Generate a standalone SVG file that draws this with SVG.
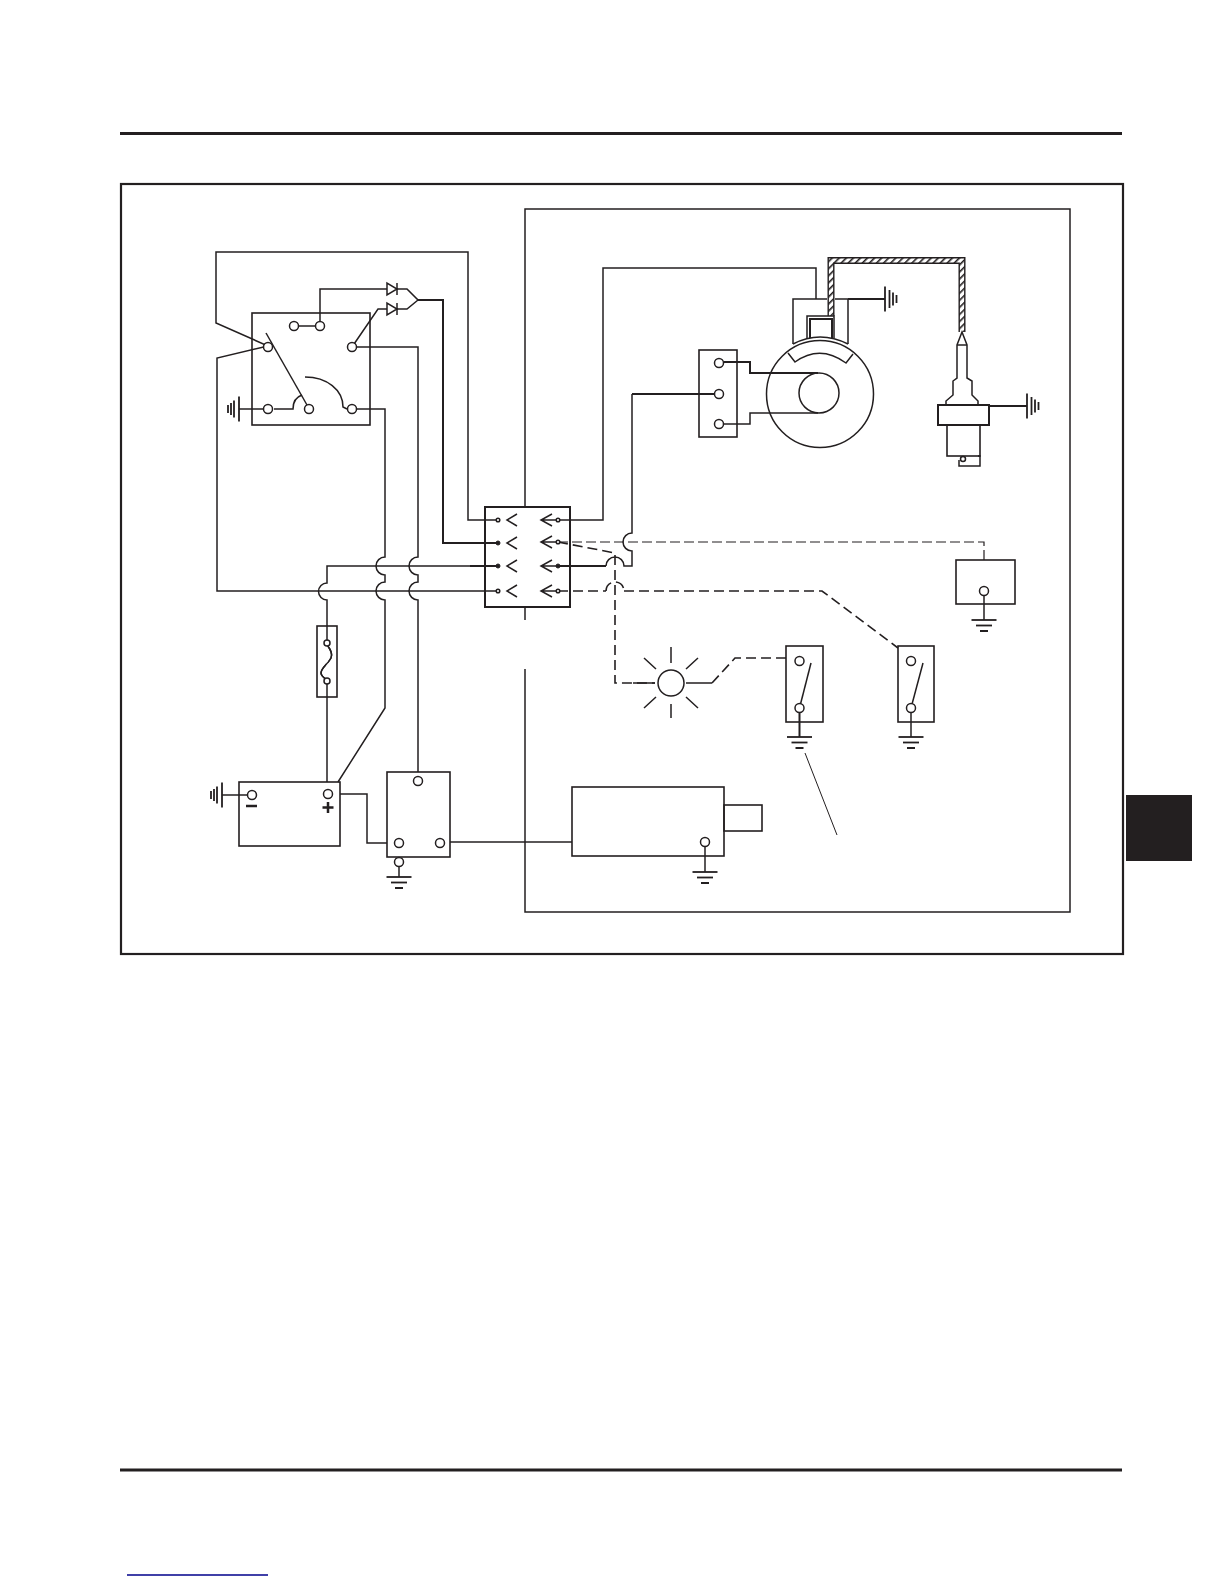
<svg xmlns="http://www.w3.org/2000/svg" width="1224" height="1584" viewBox="0 0 1224 1584">
<style>
.w{fill:none;stroke:#231f20;stroke-width:1.5;stroke-linejoin:miter}
.t{stroke-width:2}
.n{stroke-width:1}
.d{stroke-dasharray:10 5;stroke-width:1.6}
.dn{stroke-dasharray:10 4;stroke-width:1.2}
.b{fill:none;stroke:#231f20;stroke-width:1.6}
.k{fill:#fff;stroke:#231f20;stroke-width:1.5}
.s{fill:#231f20;stroke:#231f20;stroke-width:1}
</style>
<defs>
<pattern id="hatch" patternUnits="userSpaceOnUse" width="5" height="5" patternTransform="rotate(45)">
<rect width="5" height="5" fill="#fff"/><rect width="1.6" height="5" fill="#231f20"/>
</pattern>
<g id="gnd-d" class="w"><path d="M-12.500 0H12.500" stroke-width="1.800"/><path d="M-8 5.500H8" stroke-width="1.800"/><path d="M-4 11H4" stroke-width="2"/></g>
<g id="gnd-l" class="w"><path d="M0 -12.500V12.500" stroke-width="1.800"/><path d="M-5 -8.500V8.500" stroke-width="1.800"/><path d="M-8 -6V6" stroke-width="1.800"/><path d="M-11 -4V4" stroke-width="1.800"/></g>
<g id="gnd-r" class="w"><path d="M0 -12.500V12.500" stroke-width="1.800"/><path d="M4.500 -9V9" stroke-width="1.800"/><path d="M8 -6.500V6.500" stroke-width="1.800"/><path d="M11.500 -4V4" stroke-width="1.800"/></g>
<path id="fork-l" class="w" d="M10 -6L0 0L10 6"/>
<path id="fork-r" class="w" d="M11 -6L0 0L11 6M0 0H19"/>
</defs>
<rect width="1224" height="1584" fill="#fff"/>
<g id="page">
<path d="M120 133.500H1122" stroke="#231f20" stroke-width="3" fill="none"/>
<path d="M120 1470H1122" stroke="#231f20" stroke-width="3" fill="none"/>
<path d="M127 1575H268" stroke="#00008b" stroke-width="1.500" fill="none"/>
<rect id="tab" x="1126" y="795" width="66" height="66" fill="#231f20"/>
<rect id="outer-frame" x="121" y="184" width="1002" height="770" fill="none" stroke="#231f20" stroke-width="2.200"/>
<path id="engine-frame" d="M525 620V607M525 507V209H1070V912H525V669" fill="none" stroke="#231f20" stroke-width="1.500"/>
</g>
<g id="connectors">
<path class="w" d="M498 520H468V252H216V323L268 346L217 358V591H498"/>
<path class="w t" d="M418 300H443V543H498"/>
<path class="w" d="M320 326V289H387"/>
<path class="w" d="M352 347L378 309H387"/>
<path class="w" d="M397 289H407L418 300L407 309H397"/>
<path class="w" d="M352 347H418V557A9 9 0 0 0 418 575V582A9 9 0 0 0 418 600V772"/>
<path class="w" d="M352 409H385V557A9 9 0 0 0 385 575V582A9 9 0 0 0 385 600V708L338 782"/>
<path class="w" d="M470 566H327V583A8.500 8.500 0 0 0 327 600V782"/>
<path class="w t" d="M470 566H498"/>
<path class="w" d="M340 794H367V843H387"/>
<path class="w" d="M450 842H572"/>
<path class="w" d="M558 520H603V268H816V299"/>
<path class="w t" d="M558 566H606"/>
<path class="w" d="M606 566A9 9 0 0 1 624 566H632V551A9 9 0 0 1 632 533V394"/>
<path class="w t" d="M632 394H715"/>
<path class="w dn" d="M558 542H984V560"/>
<path class="w d" d="M558 542L615 553V683H655"/>
<path class="w d" d="M558 591H606"/>
<path class="w d" d="M606 591A9 9 0 0 1 624 591"/>
<path class="w d" d="M624 591H822L898 648"/>
<path class="w d" d="M712 683L735 658H786"/>
<path class="w n" d="M805 753L837 835"/>
<path d="M831 316V260.500H962V332" fill="none" stroke="#231f20" stroke-width="7"/>
<path d="M831 316V260.500H962V332" fill="none" stroke="url(#hatch)" stroke-width="4.200"/>
<path class="w t" d="M848 299H885"/>
<path class="w t" d="M989 406H1027"/>
</g>
<g id="key-switch">
<rect class="b" x="252" y="313" width="118" height="112"/>
<path class="w" d="M294 326H320" stroke-width="2"/>
<path class="w" d="M266 333L307 405"/>
<path class="w" d="M263 409H239"/>
<path class="w" d="M274 409H293C293 402 296 397 302 395"/>
<path class="w" d="M305 377C327 377 343 390 343 407L347 409"/>
<use href="#gnd-l" x="239" y="409"/>
<circle class="k" cx="294" cy="326" r="4.500"/><circle class="k" cx="320" cy="326" r="4.500"/>
<circle class="k" cx="268" cy="347" r="4.500"/><circle class="k" cx="352" cy="347" r="4.500"/>
<circle class="k" cx="268" cy="409" r="4.500"/><circle class="k" cx="309" cy="409" r="4.500"/><circle class="k" cx="352" cy="409" r="4.500"/>
</g>
<g id="diodes">
<path class="k" d="M387 283V295L397 289Z"/><path class="w" d="M397 283V295"/>
<path class="k" d="M387 303V315L397 309Z"/><path class="w" d="M397 303V315"/>
</g>
<g id="connector-block">
<rect class="b" x="485" y="507" width="85" height="100" style="stroke-width:2"/>
<use href="#fork-l" x="507" y="520"/><use href="#fork-l" x="507" y="543"/><use href="#fork-l" x="507" y="566"/><use href="#fork-l" x="507" y="591"/>
<use href="#fork-r" x="541" y="520"/><use href="#fork-r" x="541" y="542"/><use href="#fork-r" x="541" y="566"/><use href="#fork-r" x="541" y="591"/>
<circle class="k" cx="498" cy="520" r="1.800"/><circle class="s" cx="498" cy="543" r="2"/><circle class="s" cx="498" cy="566" r="2"/><circle class="k" cx="498" cy="591" r="1.800"/>
<circle class="k" cx="558" cy="520" r="1.800"/><circle class="k" cx="558" cy="542" r="1.800"/><circle class="s" cx="558" cy="566" r="2"/><circle class="k" cx="558" cy="591" r="1.800"/>
</g>
<g id="fuse">
<rect class="b" x="317" y="626" width="20" height="71"/>
<path class="w" d="M327 645C331 650 333 654 331 658C328 664 321 668 321 673C321 676 324 678 327 680"/>
<rect x="326" y="644" width="2" height="36" fill="#fff"/>
<path class="w" d="M327 645C331 650 333 654 331 658C328 664 321 668 321 673C321 676 324 678 327 680"/>
<circle class="k" cx="327" cy="643" r="3"/><circle class="k" cx="327" cy="681" r="3"/>
</g>
<g id="battery">
<rect class="b" x="239" y="782" width="101" height="64"/>
<path class="w" d="M248 795H222"/>
<use href="#gnd-l" x="222" y="795"/>
<circle class="k" cx="252" cy="795" r="4.500"/><circle class="k" cx="328" cy="794" r="4.500"/>
<path d="M246 806H257" stroke="#231f20" stroke-width="2.500" fill="none"/>
<path d="M322.500 807.500H333.500M328 802V813" stroke="#231f20" stroke-width="2.500" fill="none"/>
</g>
<g id="solenoid">
<rect class="b" x="387" y="772" width="63" height="85"/>
<path class="w" d="M399 857V877"/>
<use href="#gnd-d" x="399" y="877"/>
<circle class="k" cx="418" cy="781" r="4.500"/><circle class="k" cx="399" cy="843" r="4.500"/><circle class="k" cx="440" cy="843" r="4.500"/><circle class="k" cx="399" cy="862" r="4.500"/>
</g>
<g id="starter">
<rect class="b" x="724" y="805" width="38" height="26"/>
<rect class="b" x="572" y="787" width="152" height="69"/>
<path class="w" d="M705 847V872"/>
<use href="#gnd-d" x="705" y="872"/>
<circle class="k" cx="705" cy="842" r="4.500"/>
</g>
<g id="ignition-module">
<rect class="b" x="699" y="350" width="38" height="87"/>
<circle class="w" cx="820" cy="394" r="53.500"/>
<circle class="w" cx="819" cy="393" r="20"/>
<path class="w t" d="M724 362H750V373H818"/>
<path class="w" d="M724 424H750V413H818"/>
<path class="w" d="M788 353L795 362Q820 344 846 363L853 354"/>
<circle class="k" cx="719" cy="363" r="4.500"/><circle class="k" cx="719" cy="394" r="4.500"/><circle class="k" cx="719" cy="424" r="4.500"/>
<use href="#gnd-r" x="885" y="299"/>
</g>
<g id="coil">
<path class="w" d="M793 344V299H827M835 299H848V344"/>
<path class="w" d="M793 344Q820 330 848 344"/>
<path class="w" d="M807 338V316H834V338"/>
<path class="w t" d="M810 338V319H832V338"/>
</g>
<g id="spark-plug">
<path class="k" d="M962 332L957 345V378L953 381V395L946 401V405H978V401L972 395V381L967 378V345Z"/>
<path class="w" d="M957 345H967"/>
<rect x="938" y="405" width="51" height="20" fill="#fff" stroke="#231f20" stroke-width="2"/>
<rect class="b" x="947" y="425" width="33" height="31"/>
<path class="w" d="M978 456H980V466H959V460"/>
<circle class="k" cx="963" cy="459" r="2.500" stroke-width="1"/>
<use href="#gnd-r" x="1027" y="406"/>
</g>
<g id="lamp">
<circle class="k" cx="671" cy="683" r="13"/>
<path class="w" d="M633 683H655M686 683H712M671 647V663M671 704V718M644 658L656 669M698 658L686 669M644 708L656 697M698 708L686 697"/>
</g>
<g id="oil-switch">
<rect class="b" x="786" y="646" width="37" height="76"/>
<path class="w" d="M811 663L799.500 708"/>
<path class="w t" d="M799.500 712V737"/>
<use href="#gnd-d" x="799.500" y="737"/>
<circle class="k" cx="799.500" cy="661" r="4.500"/><circle class="k" cx="799.500" cy="708" r="4.500"/>
</g>
<g id="temp-switch">
<rect class="b" x="898" y="646" width="36" height="76"/>
<path class="w" d="M923 663L911 708"/>
<path class="w" d="M911 712V737"/>
<use href="#gnd-d" x="911" y="737"/>
<circle class="k" cx="911" cy="661" r="4.500"/><circle class="k" cx="911" cy="708" r="4.500"/>
</g>
<g id="sensor">
<rect class="b" x="956" y="560" width="59" height="44"/>
<path class="w" d="M984 596V620"/>
<use href="#gnd-d" x="984" y="620"/>
<circle class="k" cx="984" cy="591" r="4.500"/>
</g>
</svg>
